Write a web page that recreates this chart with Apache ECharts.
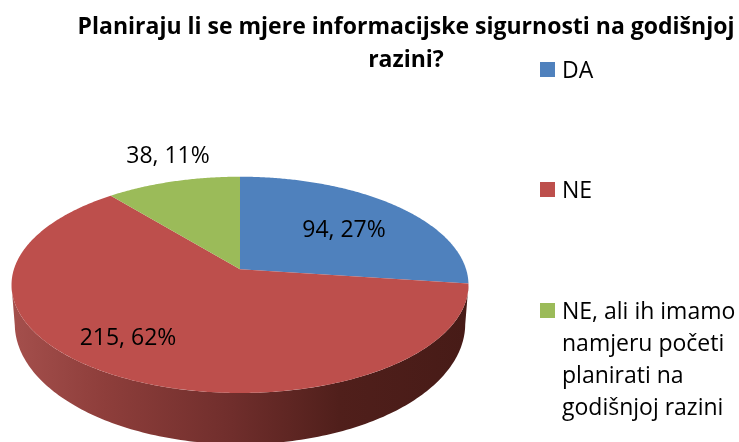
<!DOCTYPE html>
<html><head><meta charset="utf-8">
<style>html,body{margin:0;padding:0;background:#fff}#c{width:739px;height:442px}</style>
<script src="https://cdn.jsdelivr.net/npm/echarts@6/dist/echarts.min.js"></script>
</head><body><div id="c"></div>
<script>
var categories = ["DA", "NE", "NE, ali ih imamo\nnamjeru početi\nplanirati na\ngodišnjoj razini"];
var values = [94, 215, 38];
var percents = [27, 62, 11];
var colors = ["#4f81bd", "#bd4f4c", "#9bbb59"];
var titleText = "Planiraju li se mjere informacijske sigurnosti na godišnjoj\nrazini?";

var FONT = "'Open Sans'";
var labelSpots = [[344, 230], [128, 338], [168, 156]];
var legendTops = [62, 182, 303];
var topDisc = {cx: 240, cy: 269.3, A: 226.1, B: 105.9, k: 0.1438};
var lowDisc = {cx: 240, cy: 307, A: 223, B: 118, k: 0.14};
var wallFrom = 98.3, wallTo = 261.7;
var wallStops = [[0.0,"#a44f4c"],[0.2,"#8e3e3b"],[0.48,"#702e2c"],[0.72,"#501f1b"],[1,"#471b17"]];

var total = values.reduce(function (a, b) { return a + b; }, 0);

function project(d, deg, r) {
  var t = deg * Math.PI / 180, u = r * Math.sin(t), v = r * Math.cos(t), w = 1 + d.k * v;
  return [d.cx + d.A * u / w, d.cy - d.B * v / w];
}
function sliceAngles(i) {
  var before = 0;
  for (var j = 0; j < i; j++) before += values[j];
  return [before / total * 360, (before + values[i]) / total * 360];
}
function renderSlice(params, api) {
  var i = params.dataIndex, a = sliceAngles(i), kids = [];
  var s = Math.max(a[0], wallFrom), e = Math.min(a[1], wallTo), deg, pts;
  if (e > s) {
    var front = [], back = [];
    for (deg = s; deg <= e + 1e-6; deg += 1) {
      front.push(project(topDisc, deg, 1));
      back.unshift(project(lowDisc, deg, 1));
    }
    kids.push({type: "polygon", shape: {points: front.concat(back)}, style: {
      fill: new echarts.graphic.LinearGradient(14, 0, 466, 0,
        wallStops.map(function (c) { return {offset: c[0], color: c[1]}; }), true)
    }});
  }
  pts = [project(topDisc, 0, 0)];
  for (deg = a[0]; deg < a[1]; deg += 0.5) pts.push(project(topDisc, deg, 1));
  pts.push(project(topDisc, a[1], 1));
  kids.push({type: "polygon", shape: {points: pts}, style: {fill: colors[i]}});
  return {type: "group", children: kids};
}
function renderLabel(params, api) {
  var i = params.dataIndex;
  return {type: "text", style: {
    x: labelSpots[i][0], y: labelSpots[i][1],
    text: values[i] + ", " + percents[i] + "%",
    align: "center", verticalAlign: "middle",
    font: "23px " + FONT, fill: "#000"
  }};
}

var legendGraphics = [];
categories.forEach(function (name, i) {
  legendGraphics.push({type: "rect", left: 540, top: legendTops[i], shape: {width: 15, height: 15}, style: {fill: colors[i]}});
  legendGraphics.push({type: "text", left: 562, top: legendTops[i] - 7, style: {
    text: name, font: "23px " + FONT, fill: "#000", lineHeight: 32
  }});
});

var chart = echarts.init(document.getElementById("c"), null, {renderer: "canvas"});
chart.setOption({
  backgroundColor: "#fff",
  animation: false,
  title: {
    text: titleText, left: 401, top: 6, textAlign: "center",
    textStyle: {fontFamily: "Open Sans", fontWeight: "bold", fontSize: 23, color: "#000", lineHeight: 33}
  },
  graphic: legendGraphics,
  series: [
    {type: "custom", name: "slices", coordinateSystem: "none", data: values, renderItem: renderSlice, silent: true, clip: false},
    {type: "custom", name: "labels", coordinateSystem: "none", data: values, renderItem: renderLabel, silent: true, clip: false}
  ]
});
</script></body></html>
